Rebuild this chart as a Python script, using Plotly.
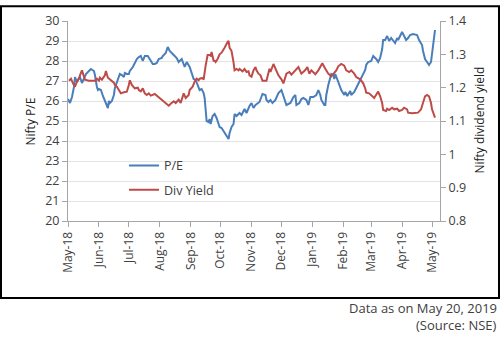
import plotly.graph_objects as go

# Nifty P/E (left axis)
pe_dates = [
    "2018-05-17", "2018-05-19", "2018-05-21", "2018-05-23", "2018-05-24", "2018-05-26",
    "2018-05-28", "2018-05-29", "2018-05-31", "2018-06-02", "2018-06-04", "2018-06-07",
    "2018-06-09", "2018-06-12", "2018-06-13", "2018-06-15", "2018-06-16", "2018-06-17",
    "2018-06-19", "2018-06-21", "2018-06-23", "2018-06-24", "2018-06-26", "2018-06-27",
    "2018-06-28", "2018-06-30", "2018-07-02", "2018-07-03", "2018-07-05", "2018-07-07",
    "2018-07-08", "2018-07-10", "2018-07-12", "2018-07-13", "2018-07-15", "2018-07-17",
    "2018-07-18", "2018-07-21", "2018-07-23", "2018-07-25", "2018-07-27", "2018-07-29",
    "2018-07-31", "2018-08-02", "2018-08-05", "2018-08-07", "2018-08-10", "2018-08-12",
    "2018-08-14", "2018-08-16", "2018-08-19", "2018-08-20", "2018-08-23", "2018-08-25",
    "2018-08-27", "2018-08-31", "2018-09-03", "2018-09-05", "2018-09-08", "2018-09-11",
    "2018-09-13", "2018-09-16", "2018-09-18", "2018-09-20", "2018-09-22", "2018-09-25",
    "2018-09-26", "2018-09-28", "2018-09-30", "2018-10-01", "2018-10-02", "2018-10-03",
    "2018-10-05", "2018-10-06", "2018-10-07", "2018-10-09", "2018-10-11", "2018-10-13",
    "2018-10-15", "2018-10-16", "2018-10-18", "2018-10-20", "2018-10-21", "2018-10-23",
    "2018-10-25", "2018-10-26", "2018-10-28", "2018-10-30", "2018-10-31", "2018-11-02",
    "2018-11-04", "2018-11-05", "2018-11-07", "2018-11-09", "2018-11-10", "2018-11-12",
    "2018-11-14", "2018-11-15", "2018-11-17", "2018-11-19", "2018-11-21", "2018-11-22",
    "2018-11-25", "2018-11-28", "2018-12-01", "2018-12-02", "2018-12-04", "2018-12-06",
    "2018-12-08", "2018-12-11", "2018-12-14", "2018-12-17", "2018-12-19", "2018-12-21",
    "2018-12-22", "2018-12-26", "2018-12-29", "2018-12-31", "2019-01-01", "2019-01-04",
    "2019-01-06", "2019-01-08", "2019-01-11", "2019-01-13", "2019-01-15", "2019-01-18",
    "2019-01-21", "2019-01-23", "2019-01-25", "2019-01-26", "2019-01-29", "2019-01-30",
    "2019-01-31", "2019-02-02", "2019-02-04", "2019-02-05", "2019-02-07", "2019-02-08",
    "2019-02-09", "2019-02-11", "2019-02-13", "2019-02-15", "2019-02-18", "2019-02-19",
    "2019-02-21", "2019-02-24", "2019-02-25", "2019-02-28", "2019-03-02", "2019-03-04",
    "2019-03-06", "2019-03-09", "2019-03-11", "2019-03-12", "2019-03-14", "2019-03-17",
    "2019-03-19", "2019-03-22", "2019-03-24", "2019-03-26", "2019-03-28", "2019-03-29",
    "2019-03-31", "2019-04-02", "2019-04-04", "2019-04-06", "2019-04-08", "2019-04-10",
    "2019-04-12", "2019-04-13", "2019-04-15", "2019-04-17", "2019-04-19", "2019-04-21",
    "2019-04-23", "2019-04-25", "2019-04-28", "2019-05-02", "2019-05-04", "2019-05-07",
    "2019-05-08", "2019-05-10", "2019-05-12", "2019-05-14", "2019-05-16", "2019-05-17",
    "2019-05-20",
]
pe_values = [
    26.10, 25.90, 26.20, 26.70, 27.20, 26.95,
    27.15, 27.20, 26.90, 27.10, 27.35, 27.50,
    27.60, 27.50, 27.30, 26.70, 26.55, 26.60,
    26.55, 26.25, 26.00, 25.80, 25.65, 26.00,
    25.90, 26.00, 26.30, 26.65, 26.90, 27.20,
    27.35, 27.30, 27.20, 27.40, 27.35, 27.35,
    27.50, 27.70, 27.90, 28.10, 28.20, 28.25,
    28.00, 28.25, 28.25, 28.10, 27.85, 27.85,
    27.90, 28.10, 28.15, 28.25, 28.40, 28.70,
    28.50, 28.30, 28.15, 27.95, 28.10, 27.70,
    27.95, 27.70, 27.35, 27.10, 27.05, 26.70,
    26.55, 26.60, 26.40, 26.15, 25.65, 25.00,
    24.95, 25.10, 24.85, 25.25, 25.35, 25.15,
    24.85, 24.70, 24.65, 24.50, 24.45, 24.30,
    24.10, 24.40, 24.70, 24.85, 25.35, 25.25,
    25.35, 25.40, 25.30, 25.50, 25.60, 25.40,
    25.65, 25.75, 25.90, 25.65, 25.80, 25.85,
    25.95, 26.35, 26.30, 26.05, 25.95, 26.05,
    25.90, 26.05, 26.40, 26.55, 26.20, 25.95,
    25.80, 25.90, 26.20, 26.30, 25.80, 25.90,
    26.10, 26.15, 26.05, 25.80, 26.20, 26.20,
    26.30, 26.55, 26.30, 26.05, 25.80, 25.80,
    26.30, 26.80, 27.20, 27.35, 27.30, 27.10,
    27.35, 27.10, 26.85, 26.55, 26.30, 26.45,
    26.25, 26.50, 26.30, 26.45, 26.65, 26.85,
    27.05, 27.30, 27.55, 27.80, 27.95, 28.00,
    28.25, 28.10, 27.95, 28.15, 28.60, 29.05,
    29.05, 29.25, 29.00, 29.15, 29.05, 28.90,
    29.15, 29.05, 29.25, 29.45, 29.25, 29.05,
    29.15, 29.30, 29.35, 29.30, 29.05, 28.80,
    28.50, 28.10, 27.95, 27.80, 27.95, 28.40,
    29.55,
]

# Nifty dividend yield (right axis)
dy_dates = [
    "2018-05-18", "2018-05-20", "2018-05-22", "2018-05-24", "2018-05-26", "2018-05-28",
    "2018-05-29", "2018-05-31", "2018-06-02", "2018-06-03", "2018-06-07", "2018-06-10",
    "2018-06-13", "2018-06-15", "2018-06-17", "2018-06-18", "2018-06-20", "2018-06-23",
    "2018-06-24", "2018-06-26", "2018-06-27", "2018-06-29", "2018-07-02", "2018-07-03",
    "2018-07-05", "2018-07-07", "2018-07-09", "2018-07-12", "2018-07-13", "2018-07-15",
    "2018-07-17", "2018-07-18", "2018-07-20", "2018-07-22", "2018-07-23", "2018-07-26",
    "2018-07-27", "2018-07-29", "2018-07-31", "2018-08-02", "2018-08-04", "2018-08-06",
    "2018-08-08", "2018-08-12", "2018-08-15", "2018-08-19", "2018-08-22", "2018-08-26",
    "2018-08-28", "2018-08-31", "2018-09-02", "2018-09-05", "2018-09-07", "2018-09-09",
    "2018-09-10", "2018-09-12", "2018-09-15", "2018-09-16", "2018-09-19", "2018-09-21",
    "2018-09-23", "2018-09-25", "2018-09-26", "2018-09-29", "2018-09-30", "2018-10-02",
    "2018-10-04", "2018-10-06", "2018-10-07", "2018-10-08", "2018-10-10", "2018-10-11",
    "2018-10-12", "2018-10-14", "2018-10-16", "2018-10-18", "2018-10-20", "2018-10-21",
    "2018-10-24", "2018-10-25", "2018-10-26", "2018-10-28", "2018-10-30", "2018-10-31",
    "2018-11-02", "2018-11-04", "2018-11-05", "2018-11-08", "2018-11-10", "2018-11-12",
    "2018-11-14", "2018-11-15", "2018-11-17", "2018-11-19", "2018-11-21", "2018-11-22",
    "2018-11-24", "2018-11-26", "2018-11-28", "2018-12-01", "2018-12-02", "2018-12-05",
    "2018-12-06", "2018-12-09", "2018-12-11", "2018-12-14", "2018-12-17", "2018-12-19",
    "2018-12-22", "2018-12-25", "2018-12-27", "2018-12-31", "2019-01-03", "2019-01-06",
    "2019-01-10", "2019-01-12", "2019-01-14", "2019-01-16", "2019-01-20", "2019-01-23",
    "2019-01-26", "2019-01-27", "2019-01-30", "2019-02-02", "2019-02-05", "2019-02-07",
    "2019-02-10", "2019-02-12", "2019-02-15", "2019-02-18", "2019-02-20", "2019-02-23",
    "2019-02-25", "2019-02-28", "2019-03-02", "2019-03-06", "2019-03-09", "2019-03-11",
    "2019-03-12", "2019-03-15", "2019-03-18", "2019-03-20", "2019-03-22", "2019-03-24",
    "2019-03-26", "2019-03-28", "2019-03-29", "2019-04-01", "2019-04-02", "2019-04-04",
    "2019-04-07", "2019-04-09", "2019-04-12", "2019-04-14", "2019-04-17", "2019-04-19",
    "2019-04-22", "2019-04-23", "2019-04-27", "2019-04-30", "2019-05-03", "2019-05-06",
    "2019-05-08", "2019-05-10", "2019-05-12", "2019-05-14", "2019-05-16", "2019-05-17",
    "2019-05-20",
]
dy_values = [
    1.221, 1.227, 1.213, 1.203, 1.218, 1.227,
    1.237, 1.252, 1.233, 1.224, 1.221, 1.221,
    1.221, 1.227, 1.221, 1.230, 1.224, 1.237,
    1.250, 1.230, 1.227, 1.221, 1.215, 1.208,
    1.203, 1.193, 1.183, 1.186, 1.186, 1.188,
    1.208, 1.222, 1.208, 1.203, 1.198, 1.200,
    1.193, 1.189, 1.198, 1.183, 1.178, 1.183,
    1.176, 1.181, 1.174, 1.164, 1.157, 1.146,
    1.152, 1.159, 1.154, 1.164, 1.154, 1.174,
    1.183, 1.169, 1.178, 1.193, 1.203, 1.218,
    1.227, 1.222, 1.227, 1.229, 1.224, 1.266,
    1.298, 1.298, 1.296, 1.307, 1.281, 1.281,
    1.277, 1.286, 1.300, 1.305, 1.313, 1.320,
    1.337, 1.340, 1.320, 1.310, 1.276, 1.252,
    1.256, 1.252, 1.256, 1.249, 1.256, 1.247,
    1.249, 1.237, 1.233, 1.252, 1.262, 1.252,
    1.242, 1.237, 1.221, 1.222, 1.221, 1.257,
    1.247, 1.271, 1.257, 1.237, 1.225, 1.213,
    1.242, 1.247, 1.239, 1.253, 1.262, 1.242,
    1.253, 1.262, 1.242, 1.252, 1.240, 1.252,
    1.266, 1.273, 1.257, 1.242, 1.234, 1.242,
    1.252, 1.264, 1.271, 1.266, 1.252, 1.247,
    1.252, 1.242, 1.232, 1.225, 1.213, 1.198,
    1.185, 1.183, 1.176, 1.169, 1.179, 1.188,
    1.174, 1.154, 1.133, 1.130, 1.137, 1.133,
    1.140, 1.135, 1.137, 1.130, 1.133, 1.140,
    1.135, 1.125, 1.123, 1.123, 1.125, 1.135,
    1.159, 1.174, 1.178, 1.174, 1.154, 1.135,
    1.110,
]

pe_ticks = list(range(20, 31))
dy_ticks = [0.8, 0.9, 1.0, 1.1, 1.2, 1.3, 1.4]

W, H = 500, 340
ML, MR, MT, MB = 68, 60, 16, 119
PW, PH = W - ML - MR, H - MT - MB


def px(x):
    return (x - ML) / PW


def py(y):
    return (H - MB - y) / PH


FONT = "Open Sans, Noto Sans, sans-serif"
AXIS_GRAY = "#a6a6a6"
TEXT = "#404040"

fig = go.Figure()
fig.add_trace(go.Scatter(
    x=pe_dates, y=pe_values, name="P/E", mode="lines",
    line=dict(color="#4a7ebb", width=2), legendgroup="a",
))
fig.add_trace(go.Scatter(
    x=dy_dates, y=dy_values, name="Div Yield", mode="lines", yaxis="y2",
    line=dict(color="#be4b48", width=2), legendgroup="b",
))

fig.update_layout(
    width=W, height=H,
    margin=dict(l=ML, r=MR, t=MT, b=MB, pad=0),
    paper_bgcolor="white", plot_bgcolor="white",
    font=dict(family=FONT, size=12, color=TEXT),
    showlegend=True,
    legend=dict(
        x=px(124), y=py(149), xanchor="left", yanchor="top",
        bgcolor="rgba(0,0,0,0)", font=dict(size=12.5, color=TEXT),
        traceorder="grouped", tracegroupgap=5, itemwidth=30,
    ),
    xaxis=dict(
        type="date", range=["2018-05-17", "2019-05-25"],
        tick0="2018-05-17", dtick="M1", tickformat="%b-%y", tickangle=-90,
        showgrid=False, showline=True, linecolor=AXIS_GRAY, linewidth=1,
        ticks="outside", ticklen=5, tickcolor=AXIS_GRAY,
        tickfont=dict(size=12, color=TEXT), zeroline=False,
    ),
    yaxis=dict(
        range=[20, 30], tickvals=pe_ticks,
        showgrid=True, gridcolor="#e3e3e3", gridwidth=1,
        showline=True, linecolor=AXIS_GRAY, linewidth=1,
        ticks="outside", ticklen=5, tickcolor=AXIS_GRAY,
        tickfont=dict(size=12.5, color=TEXT), zeroline=False,
    ),
    yaxis2=dict(
        range=[0.8, 1.4], tickvals=dy_ticks, overlaying="y", side="right",
        showgrid=False, showline=True, linecolor=AXIS_GRAY, linewidth=1,
        ticks="outside", ticklen=5, tickcolor=AXIS_GRAY,
        tickfont=dict(size=12.5, color=TEXT), zeroline=False,
    ),
    annotations=[
        dict(text="Nifty P/E", x=px(30), y=py(119), xref="paper", yref="paper",
             textangle=-90, showarrow=False, xanchor="center", yanchor="middle",
             font=dict(size=12, color="#222222")),
        dict(text="Nifty dividend yield", x=px(480), y=py(117), xref="paper", yref="paper",
             textangle=-90, showarrow=False, xanchor="center", yanchor="middle",
             font=dict(size=12, color="#222222")),
        dict(text="Data as on May 20, 2019", x=px(499), y=py(310), xref="paper", yref="paper",
             showarrow=False, xanchor="right", yanchor="middle",
             font=dict(size=13, color=TEXT)),
        dict(text="(Source: NSE)", x=px(499), y=py(328), xref="paper", yref="paper",
             showarrow=False, xanchor="right", yanchor="middle",
             font=dict(size=13, color=TEXT)),
    ],
    shapes=[
        dict(type="rect", xref="paper", yref="paper",
             x0=px(1), x1=px(499), y0=py(300), y1=py(1),
             line=dict(color="black", width=2), fillcolor="rgba(0,0,0,0)", layer="above"),
    ],
)

fig.write_html("out.html")
